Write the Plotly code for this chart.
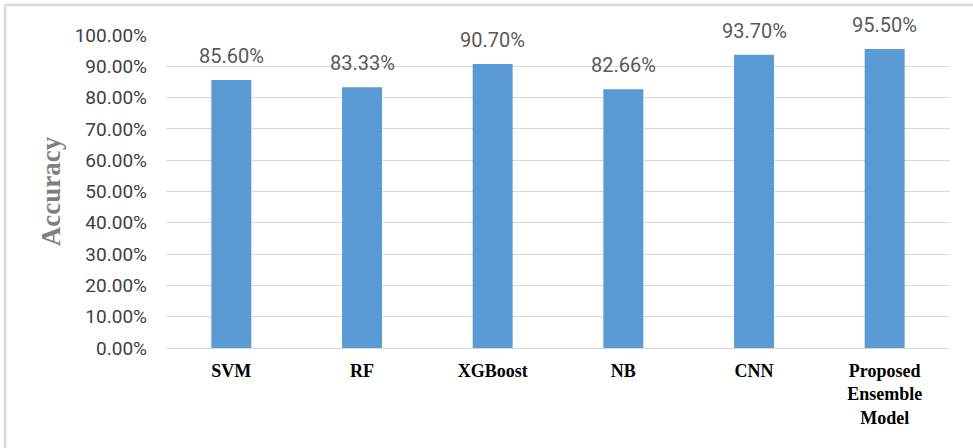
import plotly.graph_objects as go

categories = ["SVM", "RF", "XGBoost", "NB", "CNN", "Proposed<br>Ensemble<br>Model"]
accuracy = [0.856, 0.8333, 0.907, 0.8266, 0.937, 0.955]
value_labels = ["85.60%", "83.33%", "90.70%", "82.66%", "93.70%", "95.50%"]
tick_values = [i / 10 for i in range(11)]
tick_labels = [f"{v*100:.2f}%" for v in tick_values]

fig = go.Figure()
fig.add_trace(go.Bar(
    x=categories, y=accuracy,
    marker=dict(color="#5b9bd5", line=dict(width=0)),
    hoverinfo="skip",
))

for c, v, t in zip(categories, accuracy, value_labels):
    fig.add_annotation(x=c, y=v, text=t, showarrow=False, yshift=24,
                       yanchor="middle",
                       font=dict(family="Roboto", size=20, color="#595959"))

fig.update_layout(
    width=973, height=448,
    margin=dict(l=166, r=23, t=35, b=100),
    paper_bgcolor="white", plot_bgcolor="white",
    showlegend=False, bargap=0.694,
    xaxis=dict(
        tickfont=dict(family="Liberation Serif", size=18, color="#000000", weight="bold"),
        showgrid=False, showline=False, ticks="", ticklabelstandoff=10,
    ),
    yaxis=dict(
        range=[0, 1], tickvals=tick_values, ticktext=tick_labels,
        tickfont=dict(family="Roboto", size=19, color="#404040"),
        showgrid=True, gridcolor="#d9d9d9", gridwidth=1,
        zeroline=True, zerolinecolor="#d9d9d9", zerolinewidth=1,
        showline=False, ticks="", ticklabelstandoff=18,
        title=dict(text="<b>Accuracy</b>", standoff=6,
                   font=dict(family="Liberation Serif", size=27, color="#7f7f7f")),
    ),
    shapes=[
        dict(type="line", xref="paper", yref="paper",
             x0=-161/784, x1=1.2, y0=1 + 30/313, y1=1 + 30/313,
             line=dict(color="#d9d9d9", width=2.5)),
        dict(type="line", xref="paper", yref="paper",
             x0=-161/784, x1=-161/784, y0=1 + 30/313, y1=-0.5,
             line=dict(color="#d9d9d9", width=2.5)),
    ],
)

fig.write_html("out.html")
